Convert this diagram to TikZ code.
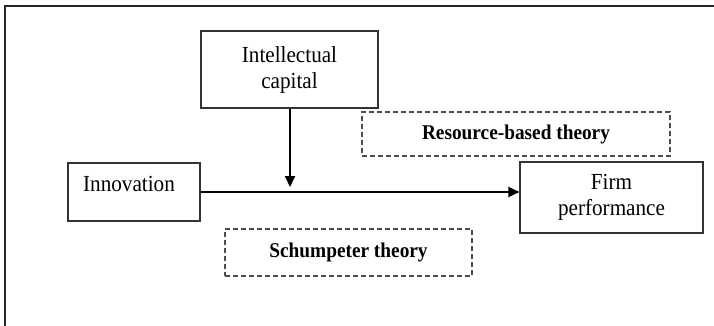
\documentclass[tikz,border=0pt]{standalone}
\usepackage{fontspec}
\setmainfont{Liberation Serif}[FakeStretch=0.92]
\usetikzlibrary{arrows.meta}
\begin{document}
\begin{tikzpicture}[x=1pt,y=-1pt,
  solidbox/.style={draw=black!80, line width=1.1pt, inner sep=0pt, align=center,
    font=\fontsize{23}{26}\selectfont},
  theorybox/.style={draw=black!70, line width=1.1pt, dash pattern=on 5pt off 3pt,
    inner sep=0pt, font=\fontsize{21}{24}\selectfont\bfseries},
  link/.style={line width=2pt, -{Triangle[length=11pt,width=10pt]}}]
\useasboundingbox (0,0) rectangle (714,326);
\draw[line width=2.4pt, black!85] (4.7,326) -- (4.7,6) -- (714,6);
\node[solidbox, minimum width=177pt, minimum height=77pt] (ic) at (289.5,69.5)
  {Intellectual\\capital};
\node[theorybox, minimum width=308pt, minimum height=44pt] (rbt) at (516,134)
  {Resource-based theory};
\node[solidbox, minimum width=132pt, text height=28pt, text depth=30pt] (innov) at (134,192)
  {\hspace*{-10pt}Innovation};
\node[solidbox, minimum width=183pt, minimum height=71pt] (firm) at (611.5,197.5)
  {Firm\\performance};
\node[theorybox, minimum width=247pt, minimum height=47pt] (sch) at (348.5,252.5)
  {Schumpeter theory};
\coordinate (mod) at (290,187);
\draw[link] (innov.east) -- (innov.east -| firm.west);
\draw[link] (ic.south -| mod) -- (mod);
\end{tikzpicture}
\end{document}
